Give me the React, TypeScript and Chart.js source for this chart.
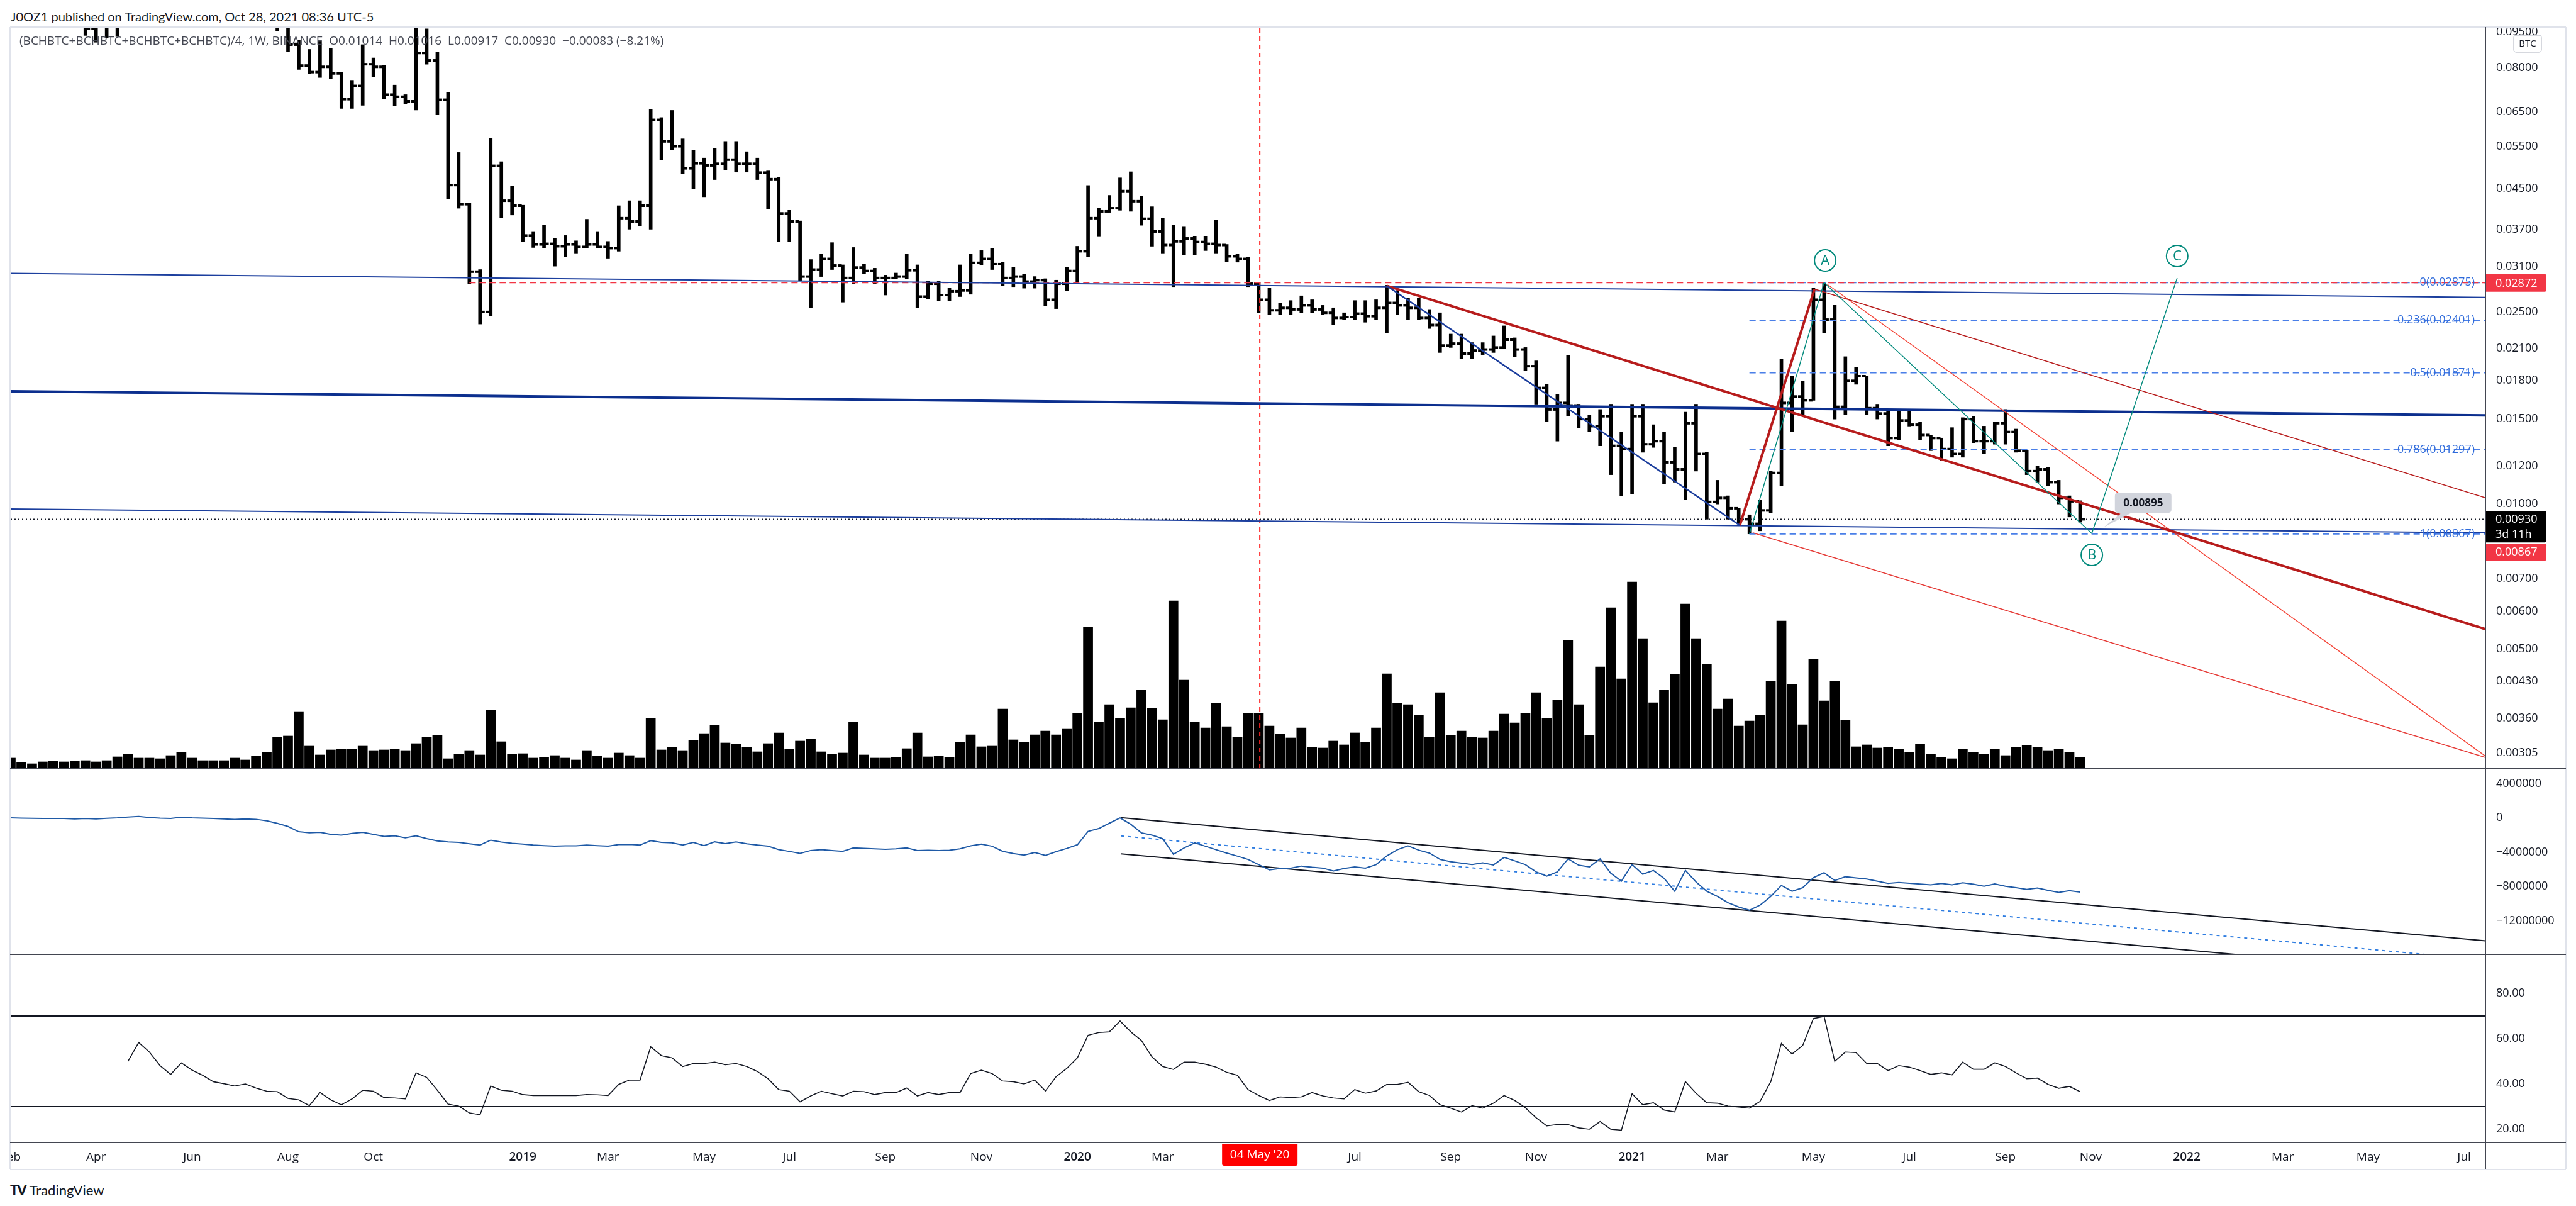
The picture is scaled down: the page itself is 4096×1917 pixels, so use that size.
import React, { useEffect, useRef } from 'react';
import { Chart, registerables } from 'chart.js';

Chart.register(...registerables);

// ---------------- DATA (weekly bars, bar 0 = week of 2018-02-05) ----------------
const OPEN = [
  0.140, 0.128, 0.125, 0.122, 0.118, 0.112, 0.108, 0.102, 0.0965, 0.0975,
  0.0985, 0.108, 0.132, 0.150, 0.158, 0.140, 0.130, 0.138, 0.132, 0.122,
  0.118, 0.115, 0.112, 0.110, 0.106, 0.104, 0.099, 0.0895, 0.081, 0.0785,
  0.0805, 0.078, 0.069, 0.0735, 0.0815, 0.0805, 0.0705, 0.0698, 0.0683, 0.086,
  0.083, 0.0688, 0.0458, 0.0418, 0.0303, 0.025, 0.0502, 0.0425, 0.0415, 0.036,
  0.0345, 0.0346, 0.0342, 0.0345, 0.0341, 0.0345, 0.0341, 0.0339, 0.0391, 0.0385,
  0.0415, 0.0625, 0.0564, 0.0551, 0.0496, 0.0508, 0.0503, 0.0507, 0.0517, 0.0507,
  0.0507, 0.0486, 0.0471, 0.040, 0.0385, 0.0296, 0.0306, 0.0322, 0.0312, 0.0294,
  0.0309, 0.0304, 0.0294, 0.0294, 0.0296, 0.0305, 0.0269, 0.0286, 0.0271, 0.0276,
  0.0277, 0.0316, 0.0322, 0.0314, 0.0294, 0.0296, 0.0289, 0.0291, 0.0265, 0.0286,
  0.0304, 0.0334, 0.0391, 0.0404, 0.041, 0.0445, 0.0424, 0.039, 0.0367, 0.0344,
  0.035, 0.0355, 0.0349, 0.0346, 0.0344, 0.0326, 0.0322, 0.0286, 0.0265, 0.0252,
  0.0255, 0.0253, 0.0258, 0.0253, 0.0249, 0.0243, 0.0244, 0.0248, 0.0245, 0.0255,
  0.0261, 0.0258, 0.0255, 0.0243, 0.0235, 0.0213, 0.0215, 0.0205, 0.0208, 0.0209,
  0.0211, 0.0219, 0.0209, 0.0193, 0.0174, 0.0157, 0.0162, 0.016, 0.015, 0.0145,
  0.0152, 0.0132, 0.013, 0.0152, 0.0133, 0.0135, 0.0122, 0.0118, 0.0147, 0.0127,
  0.0101, 0.0103, 0.0098, 0.0093, 0.0091, 0.0097, 0.0116, 0.0162, 0.0167, 0.0164,
  0.0265, 0.0241, 0.0159, 0.018, 0.0184, 0.0158, 0.0154, 0.0137, 0.0149, 0.0146,
  0.0139, 0.0137, 0.013, 0.0127, 0.015, 0.0135, 0.0135, 0.0147, 0.0141, 0.0129,
  0.0117, 0.0118, 0.0111, 0.0103, 0.01014,
];
const HIGH = [
  0.150, 0.135, 0.130, 0.128, 0.122, 0.118, 0.112, 0.106, 0.101, 0.104,
  0.112, 0.135, 0.160, 0.165, 0.162, 0.148, 0.142, 0.145, 0.136, 0.128,
  0.124, 0.122, 0.118, 0.116, 0.112, 0.108, 0.101, 0.0915, 0.0875, 0.091,
  0.088, 0.0785, 0.0755, 0.0895, 0.084, 0.081, 0.0738, 0.0705, 0.0975, 0.0965,
  0.0865, 0.0712, 0.0535, 0.042, 0.0306, 0.0572, 0.0512, 0.0455, 0.0416, 0.0367,
  0.0378, 0.0355, 0.036, 0.0351, 0.0389, 0.0367, 0.035, 0.0415, 0.0425, 0.0425,
  0.0656, 0.0632, 0.0654, 0.0571, 0.054, 0.0521, 0.0545, 0.0564, 0.0564, 0.0537,
  0.0521, 0.049, 0.0475, 0.0406, 0.0386, 0.0321, 0.033, 0.0348, 0.0313, 0.034,
  0.0314, 0.0308, 0.0298, 0.0301, 0.033, 0.0313, 0.029, 0.029, 0.028, 0.0313,
  0.033, 0.0335, 0.0339, 0.0317, 0.0309, 0.0299, 0.0296, 0.0293, 0.0291, 0.0309,
  0.0342, 0.0457, 0.041, 0.0436, 0.0474, 0.0488, 0.0435, 0.0413, 0.0391, 0.0378,
  0.0375, 0.0359, 0.0359, 0.0387, 0.0345, 0.033, 0.0325, 0.0288, 0.028, 0.0261,
  0.0264, 0.027, 0.0265, 0.0258, 0.0255, 0.0249, 0.0264, 0.0264, 0.0265, 0.0284,
  0.0277, 0.0267, 0.0267, 0.0253, 0.0249, 0.0225, 0.0225, 0.0216, 0.0216, 0.0223,
  0.0234, 0.0221, 0.0211, 0.0198, 0.0177, 0.0169, 0.0203, 0.0161, 0.0153, 0.0157,
  0.0161, 0.0141, 0.0161, 0.0161, 0.0146, 0.0141, 0.0131, 0.0155, 0.0161, 0.0128,
  0.0112, 0.0104, 0.0098, 0.0095, 0.0102, 0.0117, 0.020, 0.0184, 0.018, 0.028,
  0.02875, 0.0258, 0.0202, 0.0192, 0.0184, 0.0161, 0.0157, 0.0156, 0.0156, 0.0148,
  0.0139, 0.0137, 0.0144, 0.0151, 0.0152, 0.0145, 0.0148, 0.0157, 0.0143, 0.0129,
  0.012, 0.0119, 0.0112, 0.0104, 0.01016,
];
const LOW = [
  0.125, 0.118, 0.118, 0.115, 0.108, 0.104, 0.099, 0.0935, 0.0905, 0.0925,
  0.093, 0.105, 0.128, 0.140, 0.135, 0.125, 0.122, 0.128, 0.118, 0.112,
  0.110, 0.108, 0.104, 0.102, 0.099, 0.0955, 0.0865, 0.0795, 0.0778, 0.0765,
  0.076, 0.066, 0.066, 0.067, 0.0768, 0.069, 0.0668, 0.0674, 0.0655, 0.0815,
  0.064, 0.0428, 0.041, 0.0286, 0.0236, 0.0245, 0.0392, 0.0397, 0.035, 0.034,
  0.0339, 0.0311, 0.0325, 0.0331, 0.0339, 0.0339, 0.0323, 0.0334, 0.0371, 0.0377,
  0.0371, 0.0516, 0.0542, 0.0484, 0.045, 0.0433, 0.047, 0.0492, 0.0487, 0.0487,
  0.047, 0.0408, 0.035, 0.035, 0.029, 0.0255, 0.0296, 0.0306, 0.0262, 0.0286,
  0.030, 0.0286, 0.0271, 0.0293, 0.0293, 0.0255, 0.0266, 0.0264, 0.0264, 0.0269,
  0.0272, 0.0313, 0.0306, 0.0283, 0.0282, 0.028, 0.028, 0.0257, 0.0254, 0.0277,
  0.0286, 0.0325, 0.0359, 0.0402, 0.0406, 0.0404, 0.0378, 0.0342, 0.0331, 0.0282,
  0.0328, 0.0328, 0.0335, 0.0331, 0.0318, 0.0317, 0.0282, 0.0249, 0.0247, 0.0247,
  0.0247, 0.0249, 0.0249, 0.0247, 0.0235, 0.0241, 0.0241, 0.0238, 0.0241, 0.0226,
  0.0247, 0.0241, 0.0241, 0.0231, 0.0206, 0.0211, 0.020, 0.020, 0.0204, 0.0206,
  0.021, 0.0202, 0.0189, 0.0161, 0.0148, 0.0135, 0.0152, 0.0144, 0.0141, 0.0132,
  0.0115, 0.0104, 0.0105, 0.0128, 0.0131, 0.011, 0.0111, 0.0102, 0.0117, 0.0093,
  0.010, 0.0093, 0.0091, 0.00867, 0.0088, 0.0096, 0.0109, 0.0141, 0.0153, 0.0164,
  0.0226, 0.015, 0.0153, 0.0177, 0.0153, 0.015, 0.0132, 0.0136, 0.0145, 0.0136,
  0.0129, 0.0123, 0.0125, 0.0125, 0.0134, 0.0127, 0.0133, 0.0133, 0.0128, 0.0115,
  0.0111, 0.0109, 0.010, 0.0094, 0.00917,
];
const CLOSE = [
  0.128, 0.125, 0.122, 0.118, 0.112, 0.108, 0.102, 0.0965, 0.0975, 0.0985,
  0.108, 0.132, 0.150, 0.158, 0.140, 0.130, 0.138, 0.132, 0.122, 0.118,
  0.115, 0.112, 0.110, 0.106, 0.104, 0.099, 0.0895, 0.081, 0.0785, 0.0805,
  0.078, 0.069, 0.0735, 0.0815, 0.0805, 0.0705, 0.0698, 0.0683, 0.086, 0.083,
  0.0688, 0.0458, 0.0418, 0.0303, 0.025, 0.0502, 0.0425, 0.0415, 0.036, 0.0345,
  0.0346, 0.0342, 0.0345, 0.0341, 0.0345, 0.0341, 0.0339, 0.0391, 0.0385, 0.0415,
  0.0625, 0.0564, 0.0551, 0.0496, 0.0508, 0.0503, 0.0507, 0.0517, 0.0507, 0.0507,
  0.0486, 0.0471, 0.040, 0.0385, 0.0296, 0.0306, 0.0322, 0.0312, 0.0294, 0.0309,
  0.0304, 0.0294, 0.0294, 0.0296, 0.0305, 0.0269, 0.0286, 0.0271, 0.0276, 0.0277,
  0.0316, 0.0322, 0.0314, 0.0294, 0.0296, 0.0289, 0.0291, 0.0265, 0.0286, 0.0304,
  0.0334, 0.0391, 0.0404, 0.041, 0.0445, 0.0424, 0.039, 0.0367, 0.0344, 0.035,
  0.0355, 0.0349, 0.0346, 0.0344, 0.0326, 0.0322, 0.0286, 0.0265, 0.0252, 0.0255,
  0.0253, 0.0258, 0.0253, 0.0249, 0.0243, 0.0244, 0.0248, 0.0245, 0.0255, 0.0261,
  0.0258, 0.0255, 0.0243, 0.0235, 0.0213, 0.0215, 0.0205, 0.0208, 0.0209, 0.0211,
  0.0219, 0.0209, 0.0193, 0.0174, 0.0157, 0.0162, 0.016, 0.015, 0.0145, 0.0152,
  0.0132, 0.013, 0.0152, 0.0133, 0.0135, 0.0122, 0.0118, 0.0147, 0.0127, 0.0101,
  0.0103, 0.0098, 0.0093, 0.0091, 0.0097, 0.0116, 0.0162, 0.0167, 0.0164, 0.0265,
  0.0241, 0.0159, 0.018, 0.0184, 0.0158, 0.0154, 0.0137, 0.0149, 0.0146, 0.0139,
  0.0137, 0.013, 0.0127, 0.015, 0.0135, 0.0135, 0.0147, 0.0141, 0.0129, 0.0117,
  0.0118, 0.0111, 0.0103, 0.01013, 0.0093,
];
// weekly volume (relative units)
const VOLUME = [
  17, 10, 8, 11, 12, 11, 12, 13, 11, 13,
  19, 23, 17, 17, 16, 21, 26, 17, 13, 13,
  13, 17, 14, 20, 26, 50, 52, 91, 36, 22,
  30, 31, 31, 36, 29, 30, 31, 29, 40, 50,
  53, 16, 23, 29, 22, 93, 43, 23, 24, 17,
  18, 21, 17, 14, 29, 20, 17, 25, 21, 17,
  80, 30, 34, 29, 45, 56, 69, 41, 39, 34,
  27, 40, 57, 31, 44, 47, 27, 23, 25, 74,
  22, 17, 17, 18, 32, 57, 19, 20, 18, 42,
  54, 35, 36, 95, 46, 42, 54, 60, 54, 64,
  88, 225, 74, 102, 80, 97, 125, 96, 78, 267,
  141, 74, 65, 104, 67, 50, 88, 88, 68, 55,
  49, 65, 34, 33, 44, 38, 57, 42, 65, 151,
  104, 102, 85, 50, 121, 53, 60, 50, 49, 60,
  87, 73, 88, 121, 80, 109, 204, 102, 53, 162,
  256, 143, 297, 207, 105, 125, 150, 262, 207, 166,
  95, 111, 68, 76, 85, 139, 235, 134, 70, 174,
  108, 139, 77, 35, 38, 33, 34, 31, 26, 39,
  23, 18, 16, 31, 26, 23, 31, 21, 34, 37,
  34, 29, 31, 26, 18,
];
// On-balance volume, millions
const OBV_M = [
  0.02, -0.01, -0.03, -0.05, -0.05, -0.05, -0.10, -0.04, -0.11, -0.03,
  0.02, 0.12, 0.19, 0.07, -0.02, -0.05, 0.09, 0.02, -0.02, -0.05,
  -0.10, -0.15, -0.11, -0.15, -0.32, -0.62, -0.99, -1.60, -1.73, -1.67,
  -1.90, -2.00, -1.80, -1.67, -1.90, -2.15, -2.07, -2.30, -2.07, -2.40,
  -2.68, -2.78, -2.84, -3.00, -3.15, -2.58, -2.81, -2.95, -3.05, -3.15,
  -3.22, -3.29, -3.25, -3.25, -3.15, -3.22, -3.29, -3.10, -3.08, -3.15,
  -2.64, -2.84, -2.90, -3.15, -2.84, -3.22, -2.78, -2.98, -2.78, -3.01,
  -3.15, -3.29, -3.69, -3.90, -4.13, -3.79, -3.69, -3.80, -3.89, -3.49,
  -3.55, -3.59, -3.66, -3.59, -3.49, -3.79, -3.76, -3.80, -3.76, -3.59,
  -3.25, -3.05, -3.29, -3.89, -4.15, -4.33, -4.03, -4.37, -3.93, -3.55,
  -3.12, -1.56, -1.23, -0.60, 0.02, -0.72, -1.73, -2.00, -2.41, -4.23,
  -3.49, -2.91, -3.29, -3.70, -4.09, -4.45, -4.84, -5.44, -6.05, -5.90,
  -5.85, -5.61, -5.75, -5.85, -6.18, -5.90, -5.71, -5.85, -5.44, -4.43,
  -3.70, -3.25, -3.75, -4.09, -4.84, -5.10, -5.27, -5.44, -5.24, -5.48,
  -4.60, -5.00, -5.44, -6.29, -6.79, -6.29, -4.77, -5.51, -5.71, -4.77,
  -6.45, -7.37, -5.44, -6.56, -6.12, -7.05, -8.55, -6.12, -7.47, -8.55,
  -9.16, -9.89, -10.40, -10.77, -10.17, -9.16, -7.87, -8.55, -8.14, -6.96,
  -6.39, -7.30, -6.86, -7.00, -7.13, -7.38, -7.64, -7.53, -7.62, -7.72,
  -7.80, -7.64, -7.80, -7.57, -7.74, -7.97, -7.70, -7.97, -8.14, -8.34,
  -8.17, -8.45, -8.68, -8.48, -8.65,
];
const RSI = [
  null, null, null, null, null, null, null, null, null, null,
  null, 50.0, 58.3, 54.1, 48.1, 44.2, 49.3, 46.1, 43.8, 41.0,
  40.1, 39.1, 40.0, 38.2, 36.8, 36.6, 33.6, 33.0, 30.4, 36.2,
  33.0, 30.8, 33.4, 37.2, 36.8, 34.0, 33.8, 33.4, 44.9, 42.9,
  37.2, 31.1, 30.2, 27.2, 26.4, 39.1, 37.2, 36.8, 35.3, 34.9,
  34.9, 34.9, 34.9, 34.9, 35.3, 35.2, 34.9, 39.8, 41.7, 41.7,
  56.4, 52.5, 51.5, 47.7, 49.0, 49.0, 49.6, 48.5, 49.0, 47.7,
  45.5, 42.3, 37.5, 36.8, 32.1, 34.7, 36.8, 35.7, 34.7, 36.8,
  36.6, 35.3, 36.2, 36.2, 38.2, 34.7, 36.2, 35.3, 36.2, 36.2,
  44.6, 46.1, 44.6, 41.3, 41.0, 40.0, 41.7, 36.9, 43.2, 46.8,
  51.5, 61.5, 62.7, 63.0, 67.8, 63.0, 59.2, 51.9, 47.7, 46.4,
  49.6, 49.6, 48.7, 47.4, 45.1, 43.8, 37.5, 34.9, 32.7, 34.3,
  34.0, 34.3, 36.2, 34.7, 33.8, 33.4, 37.5, 35.9, 36.9, 39.8,
  39.8, 40.7, 36.6, 34.9, 30.8, 29.3, 27.6, 30.4, 29.3, 31.5,
  34.9, 32.7, 29.5, 25.1, 21.5, 22.1, 22.1, 20.6, 20.0, 23.4,
  20.0, 19.6, 35.7, 30.8, 31.7, 28.5, 27.6, 41.0, 35.9, 31.7,
  31.5, 30.2, 29.8, 29.3, 32.3, 41.0, 57.9, 53.2, 57.0, 68.9,
  69.8, 50.0, 54.1, 53.8, 49.0, 49.0, 45.9, 48.1, 47.4, 45.9,
  44.2, 44.9, 44.0, 49.6, 46.5, 46.5, 49.3, 47.7, 44.9, 42.3,
  42.6, 39.8, 38.1, 38.9, 36.6,
];

// x-axis: bar index of the first week of each labelled month
const X_TICK_INDEX = [0, 8, 17, 26, 34, 48, 56, 65, 73, 82, 91, 100, 108, 126, 135, 143, 152, 160, 169, 178, 187, 195, 204, 213, 221, 230];
const X_TICK_LABELS = ['Feb', 'Apr', 'Jun', 'Aug', 'Oct', '2019', 'Mar', 'May', 'Jul', 'Sep', 'Nov', '2020', 'Mar', 'Jul', 'Sep', 'Nov', '2021', 'Mar', 'May', 'Jul', 'Sep', 'Nov', '2022', 'Mar', 'May', 'Jul'];
const MARKER_INDEX = 117.1;
const MARKER_LABEL = "04 May '20";

const PRICE_TICKS = [0.095, 0.08, 0.065, 0.055, 0.045, 0.037, 0.031, 0.025, 0.021, 0.018, 0.015, 0.012, 0.010, 0.007, 0.006, 0.005, 0.0043, 0.0036, 0.00305];
const OBV_TICKS = [4, 0, -4, -8, -12];
const RSI_TICKS = [80, 60, 40, 20];

const FIB_LEVELS = ['0', '0.236', '0.5', '0.786', '1'];
const FIB_PRICES = [0.02875, 0.02401, 0.01871, 0.01297, 0.00867];
const FIB_START = 163;

const LAST_PRICE = 0.0093;
const HIGH_BADGE = 0.02872;
const LOW_BADGE = 0.00867;
const CALLOUT_X = 196.2;
const CALLOUT_PRICE = 0.00895;

const WAVE_TEXT = ['A', 'B', 'C'];
const WAVE_X = [170.1, 195.1, 203.1];
const WAVE_P = [0.03196, 0.007846, 0.03264];

// drawings (bar index, price)
const BLUE_TOP = [[0, 0.03005], [232, 0.0268]];
const BLUE_MID = [[0, 0.01712], [232, 0.01527]];
const BLUE_LOW = [[0, 0.009769], [232, 0.008717]];
const BLUE_DIAG = [[129, 0.02832], [162.1, 0.009034]];
const RED_MAIN = [[129, 0.02832], [232, 0.005506]];
const RED_IMPULSE = [[162.1, 0.009034], [169.1, 0.02788]];
const RED_CHAN_TOP = [[169.1, 0.02788], [232, 0.0103]];
const RED_FAN = [[170.3, 0.02852], [232, 0.003004]];
const RED_CHAN_LOW = [[163.3, 0.00872], [232, 0.002985]];
const TEAL_ABC = [[163, 0.00867], [170, 0.02875], [195.1, 0.00869], [203.1, 0.0294]];
const RED_HLINE = [[43, 0.02875], [232, 0.02875]];

// OBV channel (bar index, OBV millions)
const OBV_UPPER = [[104.1, 0.04], [232, -14.35]];
const OBV_MIDDLE = [[104.1, -2.09], [232, -16.57]];
const OBV_LOWER = [[104.1, -4.19], [232, -18.57]];
const RSI_BANDS = [70, 30];

// ---------------- layout ----------------
const W = 4096;
const X_MIN = 0, X_MAX = 232;
const PRICE_MIN = 0.002828, PRICE_MAX = 0.09733;
const VOL_AXIS_MAX = 1179;
const OBV_MIN = -15.93, OBV_MAX = 5.76;
const RSI_MIN = 14.17, RSI_MAX = 97.2;
const FONT = 'Lato, "Open Sans", sans-serif';
const AXIS_FONT = '"Open Sans", Lato, sans-serif';
const TEXT = '#131722';

const pts = (a: number[][]) => a.map(([x, y]) => ({ x, y }));

function lineDs(data: number[][], color: string, width: number, dash: number[] = [], order = 2) {
  return {
    type: 'line',
    data: pts(data),
    borderColor: color,
    borderWidth: width,
    borderDash: dash,
    pointRadius: 0,
    fill: false,
    tension: 0,
    order,
    yAxisID: 'y',
  };
}

function yAxis(extra: any) {
  return {
    position: 'right',
    grid: { display: false, drawTicks: false },
    border: { display: false },
    afterFit(s: any) {
      s.width = 133;
      s.paddingTop = 0;
      s.paddingBottom = 0;
    },
    ...extra,
    ticks: { color: TEXT, font: { family: AXIS_FONT, size: 18 }, padding: 17, autoSkip: false, ...(extra.ticks || {}) },
  };
}

const baseOpts = (bottom = 0) => ({
  responsive: false,
  animation: false,
  devicePixelRatio: 1,
  events: [],
  layout: { autoPadding: false, padding: { left: 17, right: 11, top: 0, bottom } },
  plugins: { legend: { display: false }, tooltip: { enabled: false } },
});

const xScale = { type: 'linear', min: X_MIN, max: X_MAX, display: false, offset: false };

const pricePlugin = {
  id: 'priceDecor',
  afterDraw(chart: any) {
    const { ctx, chartArea: a } = chart;
    const x = chart.scales.x, y = chart.scales.y;
    ctx.save();
    // fib labels
    ctx.font = `18px ${AXIS_FONT}`;
    ctx.textAlign = 'right';
    ctx.textBaseline = 'middle';
    ctx.fillStyle = '#2f6bdb';
    FIB_LEVELS.forEach((lv, k) => {
      ctx.fillText(`${lv}(${FIB_PRICES[k].toFixed(5)})`, a.right - 17, y.getPixelForValue(FIB_PRICES[k]));
    });
    // wave labels
    WAVE_TEXT.forEach((t, k) => {
      const cx = x.getPixelForValue(WAVE_X[k]);
      const cy = y.getPixelForValue(WAVE_P[k]);
      ctx.beginPath();
      ctx.arc(cx, cy, 17, 0, Math.PI * 2);
      ctx.fillStyle = '#fff';
      ctx.fill();
      ctx.lineWidth = 2;
      ctx.strokeStyle = '#00897b';
      ctx.stroke();
      ctx.fillStyle = '#00897b';
      ctx.font = `22px ${AXIS_FONT}`;
      ctx.textAlign = 'center';
      ctx.fillText(t, cx, cy + 1);
    });
    // callout
    const tx = x.getPixelForValue(CALLOUT_X), ty = y.getPixelForValue(CALLOUT_PRICE);
    const bx = tx + 18, by = ty - 55, bw = 90, bh = 32;
    ctx.fillStyle = '#d1d4dc';
    ctx.beginPath();
    ctx.roundRect(bx, by, bw, bh, 5);
    ctx.fill();
    ctx.beginPath();
    ctx.moveTo(bx + 12, by + bh - 1);
    ctx.lineTo(bx + 28, by + bh - 1);
    ctx.lineTo(tx, ty);
    ctx.closePath();
    ctx.fill();
    ctx.fillStyle = TEXT;
    ctx.font = `bold 17px ${AXIS_FONT}`;
    ctx.textAlign = 'center';
    ctx.fillText(CALLOUT_PRICE.toFixed(5), bx + bw / 2, by + bh / 2 + 1);
    // badges on price scale
    const ax = a.right - 1;
    ctx.textAlign = 'left';
    ctx.font = `18px ${AXIS_FONT}`;
    const yh = y.getPixelForValue(HIGH_BADGE);
    ctx.fillStyle = '#f23645';
    ctx.beginPath(); ctx.roundRect(ax, yh - 14, 98, 28, [0, 3, 3, 0]); ctx.fill();
    ctx.fillStyle = '#fff';
    ctx.fillText(HIGH_BADGE.toFixed(5), ax + 17, yh + 1);
    const yl = y.getPixelForValue(LAST_PRICE);
    ctx.fillStyle = '#000';
    ctx.beginPath(); ctx.roundRect(ax, yl - 13, 98, 50, [0, 3, 3, 0]); ctx.fill();
    ctx.fillStyle = '#fff';
    ctx.fillText(LAST_PRICE.toFixed(5), ax + 17, yl + 1);
    ctx.fillText('3d 11h', ax + 17, yl + 25);
    ctx.fillStyle = '#f23645';
    ctx.beginPath(); ctx.roundRect(ax, yl + 39, 98, 27, [0, 3, 3, 0]); ctx.fill();
    ctx.fillStyle = '#fff';
    ctx.fillText(LOW_BADGE.toFixed(5), ax + 17, yl + 53);
    // currency box
    ctx.fillStyle = '#fff';
    ctx.strokeStyle = '#c9ccd4';
    ctx.lineWidth = 1.5;
    ctx.beginPath(); ctx.roundRect(ax + 46, 13, 44, 27, 4); ctx.fill(); ctx.stroke();
    ctx.fillStyle = TEXT;
    ctx.font = `15px ${AXIS_FONT}`;
    ctx.textAlign = 'center';
    ctx.fillText('BTC', ax + 68, 27);
    ctx.restore();
  },
};

const axisPlugin = {
  id: 'timeAxis',
  afterDraw(chart: any) {
    const { ctx, chartArea: a } = chart;
    const x = chart.scales.x;
    ctx.save();
    ctx.beginPath();
    ctx.rect(a.left - 1, a.bottom, a.right - a.left + 1, 46);
    ctx.clip();
    ctx.textAlign = 'center';
    ctx.textBaseline = 'middle';
    ctx.fillStyle = TEXT;
    X_TICK_INDEX.forEach((ix, k) => {
      const lab = X_TICK_LABELS[k];
      ctx.font = /^\d{4}$/.test(lab) ? `600 19px ${AXIS_FONT}` : `19px ${AXIS_FONT}`;
      ctx.fillText(lab, x.getPixelForValue(ix), a.bottom + 24);
    });
    const mx = x.getPixelForValue(MARKER_INDEX);
    ctx.fillStyle = '#ff0000';
    ctx.beginPath();
    ctx.roundRect(mx - 60, a.bottom + 2, 120, 35, [0, 0, 3, 3]);
    ctx.fill();
    ctx.fillStyle = '#fff';
    ctx.font = `19px ${AXIS_FONT}`;
    ctx.fillText(MARKER_LABEL, mx, a.bottom + 20);
    ctx.restore();
  },
};

export default function App() {
  const priceRef = useRef<HTMLCanvasElement>(null);
  const obvRef = useRef<HTMLCanvasElement>(null);
  const rsiRef = useRef<HTMLCanvasElement>(null);

  useEffect(() => {
    const charts: any[] = [];

    const fibDatasets = FIB_PRICES.map((p) => lineDs([[FIB_START, p], [X_MAX, p]], '#4a7fe8', 2, [10, 6], 6));
    const tickDs = (vals: number[], dx: number) => ({
      type: 'line',
      data: vals.map((v, i) => ({ x: i + dx, y: v })),
      showLine: false,
      pointStyle: 'line',
      pointRadius: 3,
      pointBorderWidth: 4,
      pointBorderColor: '#000',
      yAxisID: 'y',
      order: 18,
    });

    charts.push(new Chart(priceRef.current as any, {
      type: 'bar',
      data: {
        datasets: [
          ...fibDatasets,
          lineDs(RED_HLINE, '#f23645', 2, [10, 6], 5),
          lineDs([[0, LAST_PRICE], [X_MAX, LAST_PRICE]], '#131722', 1.5, [2, 4], 5),
          lineDs([[MARKER_INDEX, PRICE_MIN], [MARKER_INDEX, PRICE_MAX]], '#ff2020', 2, [7, 6], 5),
          lineDs(BLUE_TOP, '#1c3f9e', 2, [], 4),
          lineDs(BLUE_MID, '#0c2f8e', 4, [], 4),
          lineDs(BLUE_LOW, '#1c3f9e', 2, [], 4),
          lineDs(BLUE_DIAG, '#1a3c9c', 2.5, [], 3),
          lineDs(RED_MAIN, '#b71c1c', 4, [], 3),
          lineDs(RED_IMPULSE, '#b71c1c', 4, [], 3),
          lineDs(RED_CHAN_TOP, '#b71c1c', 1.5, [], 3),
          lineDs(RED_FAN, '#f44336', 1.5, [], 3),
          lineDs(RED_CHAN_LOW, '#e53935', 1.5, [], 3),
          lineDs(TEAL_ABC, '#00897b', 1.5, [], 2),
          tickDs(OPEN, -0.265),
          tickDs(CLOSE, 0.265),
          {
            type: 'bar',
            data: HIGH.map((h, i) => ({ x: i, y: [LOW[i], h] })),
            backgroundColor: '#000',
            barThickness: 5,
            grouped: false,
            yAxisID: 'y',
            order: 20,
          },
          {
            type: 'bar',
            data: VOLUME.map((v, i) => ({ x: i, y: v })),
            backgroundColor: '#000',
            barThickness: 15,
            grouped: false,
            yAxisID: 'yv',
            order: 30,
          },
        ],
      },
      options: {
        ...baseOpts(),
        scales: {
          x: xScale,
          y: yAxis({
            type: 'logarithmic',
            min: PRICE_MIN,
            max: PRICE_MAX,
            afterBuildTicks(s: any) { s.ticks = PRICE_TICKS.map((v) => ({ value: v })); },
            ticks: { callback: (v: any) => Number(v).toFixed(5) },
          }),
          yv: { type: 'linear', display: false, min: 0, max: VOL_AXIS_MAX },
        },
      } as any,
      plugins: [pricePlugin],
    } as any));

    charts.push(new Chart(obvRef.current as any, {
      type: 'line',
      data: {
        datasets: [
          lineDs(OBV_UPPER, '#131722', 2, [], 3),
          lineDs(OBV_LOWER, '#131722', 2, [], 3),
          lineDs(OBV_MIDDLE, '#2f7de1', 2, [5, 6], 3),
          {
            data: OBV_M.map((v, i) => ({ x: i, y: v })),
            borderColor: '#1f5aa6',
            borderWidth: 2,
            pointRadius: 0,
            tension: 0,
            yAxisID: 'y',
            order: 1,
          },
        ],
      },
      options: {
        ...baseOpts(),
        scales: {
          x: xScale,
          y: yAxis({
            type: 'linear',
            min: OBV_MIN,
            max: OBV_MAX,
            afterBuildTicks(s: any) { s.ticks = OBV_TICKS.map((v) => ({ value: v })); },
            ticks: {
              callback: (v: any) => {
                const n = Math.round(Number(v) * 1e6);
                return n === 0 ? '0' : (n < 0 ? '\u2212' : '') + String(Math.abs(n));
              },
            },
          }),
        },
      } as any,
    } as any));

    charts.push(new Chart(rsiRef.current as any, {
      type: 'line',
      data: {
        datasets: [
          ...RSI_BANDS.map((b) => lineDs([[X_MIN, b], [X_MAX, b]], '#131722', 2, [], 3)),
          {
            data: RSI.map((v, i) => (v == null ? null : { x: i, y: v })).filter(Boolean),
            borderColor: '#131722',
            borderWidth: 1.6,
            pointRadius: 0,
            tension: 0,
            yAxisID: 'y',
            order: 1,
          },
        ],
      },
      options: {
        ...baseOpts(46),
        scales: {
          x: xScale,
          y: yAxis({
            type: 'linear',
            min: RSI_MIN,
            max: RSI_MAX,
            afterBuildTicks(s: any) { s.ticks = RSI_TICKS.map((v) => ({ value: v })); },
            ticks: { callback: (v: any) => Number(v).toFixed(2) },
          }),
        },
      } as any,
      plugins: [axisPlugin],
    } as any));

    return () => charts.forEach((c) => c.destroy());
  }, []);

  const hLine = (top: number, color: string, h = 2, left = 16, right = 4080) => (
    <div style={{ position: 'absolute', left, top: top - h / 2, width: right - left, height: h, background: color }} />
  );
  const vLine = (left: number, color: string, w = 2, top = 43, bottom = 1858) => (
    <div style={{ position: 'absolute', left: left - w / 2, top, width: w, height: bottom - top, background: color }} />
  );

  return (
    <div style={{ position: 'absolute', left: 0, top: 0, width: W, height: 1917, background: '#fff', overflow: 'hidden', fontFamily: FONT }}>
      <canvas ref={priceRef} width={W} height={1179} style={{ position: 'absolute', left: 0, top: 43, width: W, height: 1179 }} />
      <canvas ref={obvRef} width={W} height={295} style={{ position: 'absolute', left: 0, top: 1222, width: W, height: 295 }} />
      <canvas ref={rsiRef} width={W} height={345} style={{ position: 'absolute', left: 0, top: 1517, width: W, height: 345 }} />

      {hLine(43, '#e0e3eb', 2)}
      {vLine(16, '#e0e3eb', 2)}
      {vLine(4080, '#e0e3eb', 2)}
      {hLine(1859, '#e0e3eb', 2)}
      {hLine(1222, '#434651', 2)}
      {hLine(1517, '#434651', 2)}
      {hLine(1816, '#434651', 2)}
      {vLine(3952, '#434651', 2)}

      <div style={{ position: 'absolute', left: 17, top: 12, fontSize: 20, lineHeight: '28px', color: TEXT, whiteSpace: 'nowrap' }}>
        J0OZ1 published on TradingView.com, Oct 28, 2021 08:36 UTC-5
      </div>
      <div style={{ position: 'absolute', left: 31, top: 50, fontSize: 19, lineHeight: '28px', color: '#434651', whiteSpace: 'pre', fontFamily: AXIS_FONT }}>
        {'(BCHBTC+BCHBTC+BCHBTC+BCHBTC)/4, 1W, BINANCE  O0.01014  H0.01016  L0.00917  C0.00930  \u22120.00083 (\u22128.21%)'}
      </div>
      <div style={{ position: 'absolute', left: 16, top: 1878, fontSize: 22, lineHeight: '28px', color: TEXT, whiteSpace: 'nowrap' }}>
        <span style={{ fontWeight: 900, letterSpacing: -2, marginRight: 6 }}>TV</span>TradingView
      </div>
    </div>
  );
}
